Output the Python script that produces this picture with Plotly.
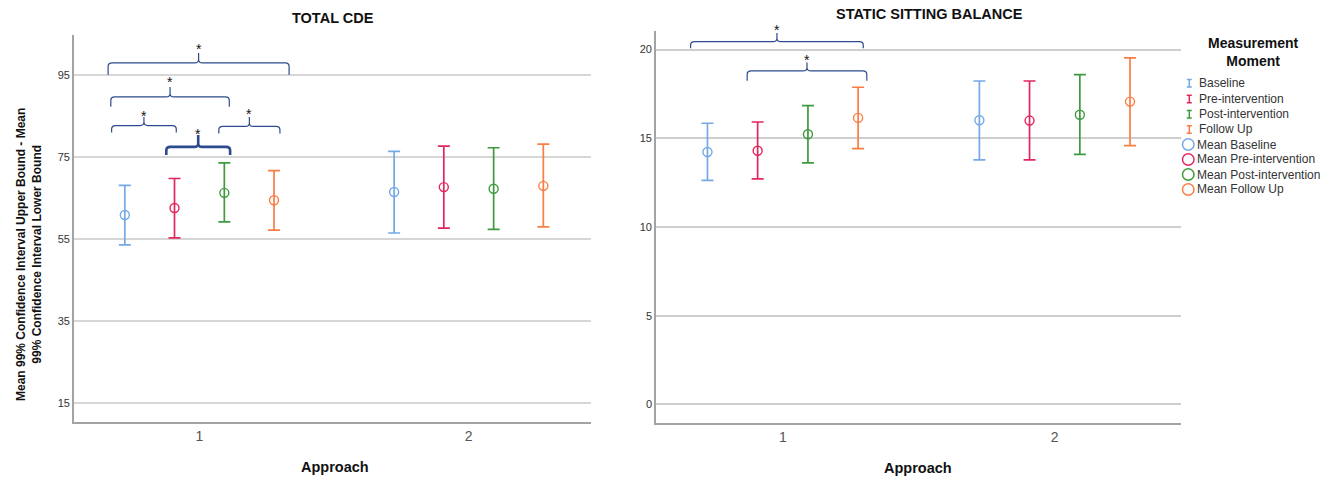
import plotly.graph_objects as go

W, H = 1328, 482

# ---------------- data ----------------
approach = [1, 2]
series = ["Baseline", "Pre-intervention", "Post-intervention", "Follow Up"]
colors = ["#74a9e6", "#e3265e", "#3e9a3e", "#fa7d44"]

# TOTAL CDE (mean and 99% CI bounds) per series, per approach
cde_mean = [[60.8, 66.4], [62.5, 67.6], [66.2, 67.2], [64.4, 67.9]]
cde_low = [[53.5, 56.4], [55.2, 57.6], [59.1, 57.3], [57.1, 57.9]]
cde_high = [[68.0, 76.3], [69.7, 77.6], [73.5, 77.2], [71.6, 78.1]]

# STATIC SITTING BALANCE
ssb_mean = [[14.23, 16.02], [14.30, 16.00], [15.23, 16.33], [16.15, 17.07]]
ssb_low = [[12.63, 13.78], [12.71, 13.78], [13.61, 14.10], [14.42, 14.59]]
ssb_high = [[15.85, 18.23], [15.92, 18.23], [16.84, 18.59], [17.88, 19.53]]

cde_ticks = [15, 35, 55, 75, 95]
ssb_ticks = [0, 5, 10, 15, 20]

# significance brackets: (x0, x1, level, end, top, star)
cde_brackets = [
    (0.661, 1.333, 97.9, 95.0, 100.3, 102.0),
    (0.671, 1.111, 89.6, 87.2, 92.0, 94.0),
    (0.674, 0.914, 82.6, 80.9, 84.7, 85.7),
    (1.072, 1.299, 82.4, 80.7, 84.7, 86.1),
    (0.877, 1.114, 77.4, 75.4, 80.3, 81.3),
]
cde_bracket_width = [1.2, 1.2, 1.2, 1.2, 2.6]
ssb_brackets = [
    (0.661, 1.296, 20.45, 20.08, 20.94, 21.28),
    (0.869, 1.309, 18.80, 18.25, 19.27, 19.60),
]
ssb_bracket_width = [1.2, 1.2]

offsets = [-0.277, -0.0925, 0.0925, 0.277]
bracket_color = "#2d4b8e"

fig = go.Figure()


def add_series(mean, low, high, xa, ya):
    for i, name in enumerate(series):
        xs = [a + offsets[i] for a in approach]
        fig.add_trace(go.Scatter(
            x=xs, y=mean[i], xaxis=xa, yaxis=ya, mode="markers",
            name="Mean " + name, showlegend=False,
            marker=dict(symbol="circle-open", size=9, color=colors[i],
                        line=dict(width=1.4, color=colors[i])),
            error_y=dict(type="data", symmetric=False,
                         array=[h - m for h, m in zip(high[i], mean[i])],
                         arrayminus=[m - l for l, m in zip(low[i], mean[i])],
                         color=colors[i], thickness=1.7, width=6),
        ))


add_series(cde_mean, cde_low, cde_high, "x", "y")
add_series(ssb_mean, ssb_low, ssb_high, "x2", "y2")

shapes = []
annotations = []


def add_brackets(brs, widths, xr, yr, px_per_unit_y, px_per_unit_x):
    rx = 4.0 / px_per_unit_x
    ry = 3.5 / px_per_unit_y
    for (x0, x1, y, ye, yt, ys), w in zip(brs, widths):
        xc = (x0 + x1) / 2
        path = (f"M {x0},{ye} L {x0},{y - ry} Q {x0},{y} {x0 + rx},{y} "
                f"L {xc - rx},{y} Q {xc},{y} {xc},{y + ry} L {xc},{yt} "
                f"M {xc},{y + ry} Q {xc},{y} {xc + rx},{y} "
                f"L {x1 - rx},{y} Q {x1},{y} {x1},{y - ry} L {x1},{ye}")
        shapes.append(dict(type="path", path=path, xref=xr, yref=yr,
                           line=dict(color=bracket_color, width=w), layer="above"))
        annotations.append(dict(x=xc, y=yt, xref=xr, yref=yr, text="*",
                                showarrow=False, xanchor="center", yanchor="middle",
                                yshift=(ys - yt) * px_per_unit_y - 3,
                                font=dict(size=14, color="#111111")))


add_brackets(cde_brackets, cde_bracket_width, "x", "y", 4.1, 269.3)
add_brackets(ssb_brackets, ssb_bracket_width, "x2", "y2", 17.73, 271.9)


def px(xp):
    return xp / W


def py(yp):
    return 1 - yp / H


def text_ann(x, y, text, size, color="#111111", xanchor="center", angle=0):
    return dict(x=px(x), y=py(y), xref="paper", yref="paper", text=text,
                showarrow=False, xanchor=xanchor, yanchor="middle", textangle=angle,
                font=dict(size=size, color=color))


# titles
annotations += [
    text_ann(333, 18, "<b>TOTAL CDE</b>", 14.5),
    text_ann(929, 14, "<b>STATIC SITTING BALANCE</b>", 14.5),
    text_ann(335, 467, "<b>Approach</b>", 14.5),
    text_ann(918, 468, "<b>Approach</b>", 14.5),
    text_ann(29, 255,
             "<b>Mean 99% Confidence Interval Upper Bound - Mean<br>99% Confidence Interval Lower Bound</b>",
             12, angle=-90),
    text_ann(1253, 52, "<b>Measurement<br>Moment</b>", 14),
]

# manual legend
leg_err_y = [83.3, 99.0, 114.3, 129.5]
leg_mean_y = [144.5, 159.5, 174.5, 189.5]
for i, name in enumerate(series):
    yc = leg_err_y[i]
    xc = 1189.3
    path = (f"M {px(xc - 2.5)},{py(yc - 3.8)} L {px(xc + 2.5)},{py(yc - 3.8)} "
            f"M {px(xc)},{py(yc - 3.8)} L {px(xc)},{py(yc + 3.8)} "
            f"M {px(xc - 2.5)},{py(yc + 3.8)} L {px(xc + 2.5)},{py(yc + 3.8)}")
    shapes.append(dict(type="path", path=path, xref="paper", yref="paper",
                       line=dict(color=colors[i], width=1.5)))
    annotations.append(text_ann(1197, yc, name, 12, "#333333", "left"))
    ym = leg_mean_y[i]
    shapes.append(dict(type="circle", xref="paper", yref="paper",
                       x0=px(1182.5), x1=px(1194), y0=py(ym + 5.75), y1=py(ym - 5.75),
                       line=dict(color=colors[i], width=1.5)))
    annotations.append(text_ann(1195, ym, "Mean " + name, 12, "#333333", "left"))

axis_common = dict(showline=True, linecolor="#a3a3a3", linewidth=1.6, zeroline=False,
                   ticks="", fixedrange=True)

fig.update_layout(
    width=W, height=H,
    margin=dict(l=0, r=0, t=0, b=0),
    paper_bgcolor="white", plot_bgcolor="white",
    font=dict(family="Liberation Sans, Arial, sans-serif", color="#333333"),
    showlegend=False,
    xaxis=dict(domain=[px(74), px(591)], range=[0.5343, 2.454], tickvals=approach,
               ticktext=[str(a) for a in approach], showgrid=False, anchor="y",
               tickfont=dict(size=14, color="#555555"), **axis_common),
    yaxis=dict(domain=[py(422), py(35)], range=[10.3, 104.7], tickvals=cde_ticks,
               showgrid=True, gridcolor="#d6d6d6", gridwidth=2, anchor="x",
               tickfont=dict(size=11, color="#333333"), **axis_common),
    xaxis2=dict(domain=[px(656), px(1181)], range=[0.5337, 2.4645], tickvals=approach,
                ticktext=[str(a) for a in approach], showgrid=False, anchor="y2",
                tickfont=dict(size=14, color="#555555"), **axis_common),
    yaxis2=dict(domain=[py(423), py(31)], range=[-1.05, 21.05], tickvals=ssb_ticks,
                showgrid=True, gridcolor="#cfcfcf", gridwidth=1.5, anchor="x2",
                tickfont=dict(size=11, color="#333333"), **axis_common),
    shapes=shapes,
    annotations=annotations,
)

fig.write_html("out.html")
